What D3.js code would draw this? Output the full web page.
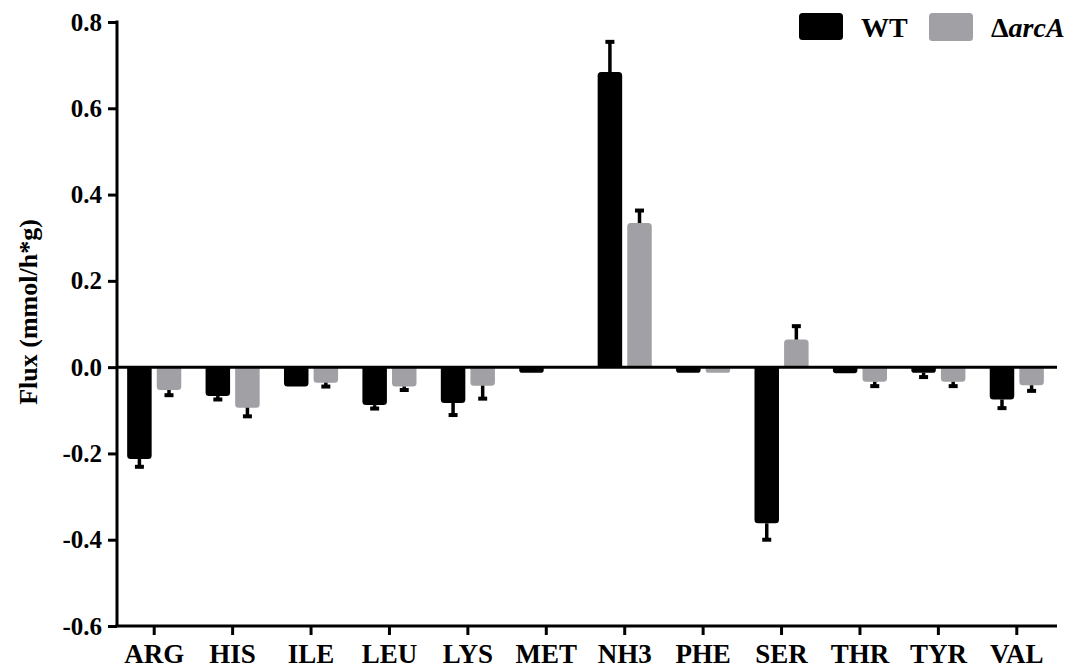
<!DOCTYPE html>
<html><head><meta charset="utf-8">
<script src="https://cdn.jsdelivr.net/npm/d3@7"></script>
<style>html,body{margin:0;padding:0;background:#fff;}svg{display:block;}text{font-family:"Liberation Serif","Times New Roman",serif;font-weight:bold;}</style>
</head><body>
<svg id="c" width="1077" height="668"></svg>
<script>
const categories = ["ARG","HIS","ILE","LEU","LYS","MET","NH3","PHE","SER","THR","TYR","VAL"];
const wtValues   = [-0.213,-0.067,-0.045,-0.088,-0.083,-0.013,0.684,-0.013,-0.362,-0.014,-0.013,-0.075];
const wtErrors   = [0.018,0.008,0,0.008,0.028,0,0.07,0,0.038,0,0.01,0.02];
const arcValues  = [-0.053,-0.094,-0.036,-0.045,-0.043,0,0.334,-0.013,0.064,-0.034,-0.034,-0.042];
const arcErrors  = [0.012,0.02,0.009,0.008,0.03,0,0.029,0,0.031,0.01,0.01,0.013];
const yTicks     = [-0.6,-0.4,-0.2,0.0,0.2,0.4,0.6,0.8];
const seriesNames = ["WT","arcA"];
const colors = {WT:"#000000", arcA:"#a0a0a5"};

const svg = d3.select("#c");
const y = d3.scaleLinear().domain([-0.6,0.8]).range([626,22]);
const x = d3.scaleBand().domain(categories).range([115,1056]).paddingInner(0).paddingOuter(0);
const barW = 24.5, offset = 14.8;

function barPath(cx, v) {
  const x0 = cx - barW/2, x1 = cx + barW/2;
  const y0 = y(0), y1 = y(v);
  const r = Math.min(3.5, Math.abs(y1-y0)/2);
  if (Math.abs(y1-y0) < 0.5) return "";
  const s = v >= 0 ? 1 : -1;
  return `M${x0},${y0} L${x0},${y1 + s*r} Q${x0},${y1} ${x0+r},${y1} L${x1-r},${y1} Q${x1},${y1} ${x1},${y1 + s*r} L${x1},${y0} Z`;
}
const series = [
  {name:"WT", vals:wtValues, errs:wtErrors, dx:-offset},
  {name:"arcA", vals:arcValues, errs:arcErrors, dx:offset}
];
series.forEach(s => {
  const g = svg.append("g");
  g.selectAll("path").data(categories).join("path")
    .attr("d", (c,i) => barPath(x(c)+x.bandwidth()/2 + s.dx, s.vals[i]))
    .attr("fill", colors[s.name]);
});
series.forEach(s => {
  const g = svg.append("g");
  categories.forEach((c,i) => {
    const e = s.errs[i]; if (!e) return;
    const v = s.vals[i];
    const cx = x(c)+x.bandwidth()/2 + s.dx;
    const end = v >= 0 ? v + e : v - e;
    g.append("line").attr("x1",cx).attr("x2",cx).attr("y1",y(v)).attr("y2",y(end))
      .attr("stroke","#000").attr("stroke-width",3.5);
    g.append("line").attr("x1",cx-4.5).attr("x2",cx+4.5).attr("y1",y(end)).attr("y2",y(end))
      .attr("stroke","#000").attr("stroke-width",4);
  });
});

svg.append("line").attr("x1",117).attr("x2",1057).attr("y1",y(0)).attr("y2",y(0))
  .attr("stroke","#000").attr("stroke-width",3);

const yAxis = d3.axisLeft(y).tickValues(yTicks).tickFormat(d3.format(".1f")).tickSize(9).tickPadding(6);
const gy = svg.append("g").attr("transform","translate(117,0)").call(yAxis);
gy.select(".domain").attr("stroke-width",3).attr("d","M0,20.5V626");
gy.selectAll(".tick line").attr("stroke-width",3);
gy.selectAll(".tick text").attr("font-size",25).attr("fill","#000")
  .text(d => d3.format(".1f")(d).replace("−","-"));

const xAxis = d3.axisBottom(x).tickSize(9).tickPadding(8);
const gx = svg.append("g").attr("transform","translate(0,626)").call(xAxis);
gx.select(".domain").attr("stroke-width",3).attr("d","M115.5,0H1057");
gx.selectAll(".tick line").attr("stroke-width",3);
gx.selectAll(".tick text").attr("font-size",27).attr("fill","#000").attr("dy","0.74em");

svg.append("text").attr("transform","translate(37,312) rotate(-90)")
  .attr("text-anchor","middle").attr("font-size",26).text("Flux (mmol/h*g)");

const lg = svg.append("g");
lg.append("rect").attr("x",799).attr("y",13).attr("width",44).attr("height",27).attr("rx",3.5).attr("fill",colors.WT);
lg.append("text").attr("x",861).attr("y",37).attr("font-size",28).text(seriesNames[0]);
lg.append("rect").attr("x",929).attr("y",13).attr("width",44).attr("height",28).attr("rx",3.5).attr("fill",colors.arcA);
const t2 = lg.append("text").attr("x",991).attr("y",37).attr("font-size",28);
t2.append("tspan").text("Δ");
t2.append("tspan").attr("font-style","italic").text(seriesNames[1]);
</script>
</body></html>
